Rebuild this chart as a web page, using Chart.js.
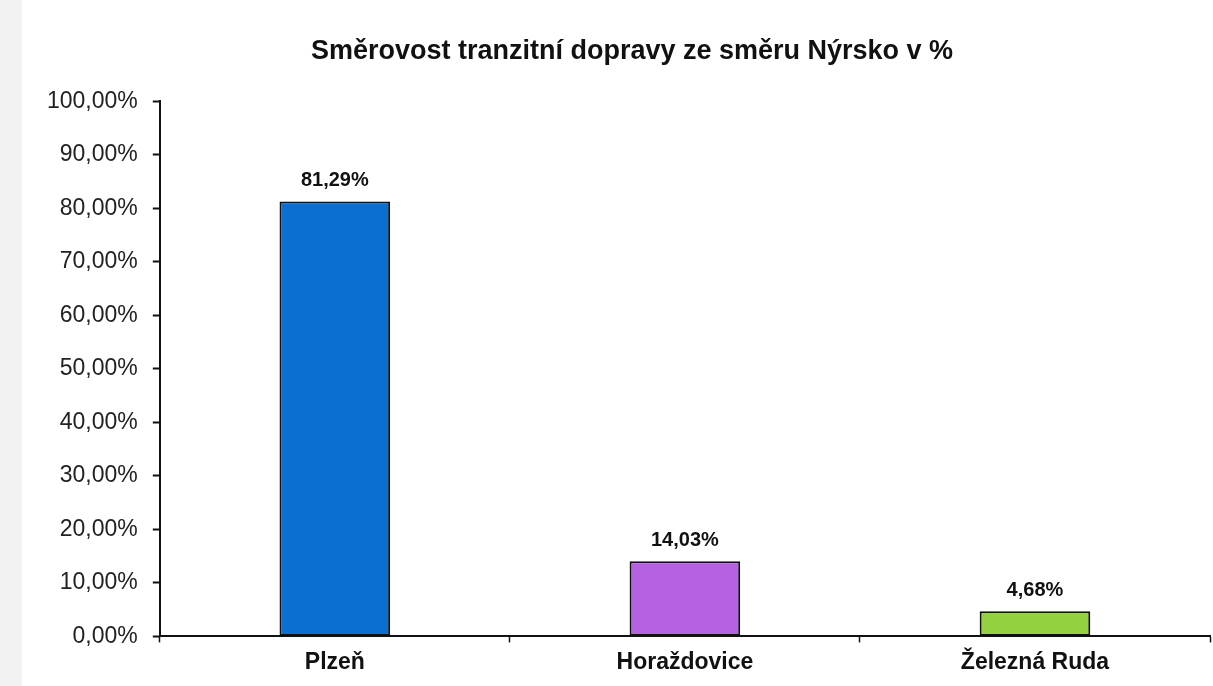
<!DOCTYPE html>
<html>
<head>
<meta charset="utf-8">
<script src="https://cdn.jsdelivr.net/npm/chart.js@4/dist/chart.umd.min.js"></script>
<style>
    html, body { margin: 0; padding: 0; background: #fff; }
    body { background: linear-gradient(to right, #f2f2f2 0, #f2f2f2 22px, #fff 22px); }
    #wrap { width: 1213px; height: 686px; position: relative; }
</style>
</head>
<body>
<div id="wrap"><canvas id="smerChart" width="1213" height="686"></canvas></div>
<script>
// Směrovost tranzitní dopravy - data
const categories = ['Plzeň', 'Horaždovice', 'Železná Ruda'];
const values = [81.29, 14.03, 4.68];
const barColors = ['#0b6fd2', '#b462e0', '#93d140'];
const yTicks = [0, 10, 20, 30, 40, 50, 60, 70, 80, 90, 100];

// česky formát s desetinnou čárkou
function fmtPct(v) {
    return v.toFixed(2).replace('.', ',') + '%';
}

// popisky hodnot nad sloupci
const valueLabels = {
    id: 'valueLabels',
    afterLayout(chart) {
        // nadpis je v originále trochu posunutý doprava
        chart.titleBlock.left += 22;
    },
    afterDatasetsDraw(chart) {
        const ctx = chart.ctx;
        const meta = chart.getDatasetMeta(0);
        ctx.save();
        ctx.font = 'bold 20px "Liberation Sans", Arial, sans-serif';
        ctx.fillStyle = '#111';
        ctx.textAlign = 'center';
        ctx.textBaseline = 'middle';
        meta.data.forEach((bar, i) => {
            ctx.fillText(fmtPct(values[i]), bar.x, bar.y - 21);
        });
        ctx.restore();
    }
};

const ctx = document.getElementById('smerChart');
new Chart(ctx, {
    type: 'bar',
    data: {
        labels: categories,
        datasets: [{
            data: values,
            backgroundColor: barColors,
            borderColor: '#111',
            borderWidth: 2,
            borderSkipped: false,
            categoryPercentage: 1,
            barPercentage: 0.316
        }]
    },
    options: {
        responsive: false,
        animation: false,
        layout: {
            padding: { left: 32, right: 3, top: 0, bottom: 4 }
        },
        plugins: {
            legend: { display: false },
            tooltip: { enabled: false },
            title: {
                display: true,
                text: 'Směrovost tranzitní dopravy ze směru Nýrsko v %',
                color: '#111',
                font: { family: '"Liberation Sans", Arial, sans-serif', size: 27, weight: 'bold' },
                padding: { top: 35, bottom: 34 }
            }
        },
        scales: {
            x: {
                grid: {
                    display: true,
                    drawOnChartArea: false,
                    offset: true,
                    color: '#111',
                    tickLength: 6,
                    tickWidth: 1.5
                },
                border: { color: '#111', width: 2 },
                ticks: {
                    color: '#111',
                    padding: 6,
                    font: { family: '"Liberation Sans", Arial, sans-serif', size: 23, weight: 'bold' }
                }
            },
            y: {
                min: 0,
                max: 100,
                afterBuildTicks(axis) {
                    axis.ticks = yTicks.map(v => ({ value: v }));
                },
                grid: {
                    display: true,
                    drawOnChartArea: false,
                    color: '#111',
                    tickLength: 7,
                    tickWidth: 2
                },
                border: { color: '#111', width: 2 },
                ticks: {
                    color: '#222',
                    padding: 15,
                    font: { family: '"Liberation Sans", Arial, sans-serif', size: 23 },
                    callback: v => fmtPct(v)
                }
            }
        }
    },
    plugins: [valueLabels]
});
</script>
</body>
</html>
